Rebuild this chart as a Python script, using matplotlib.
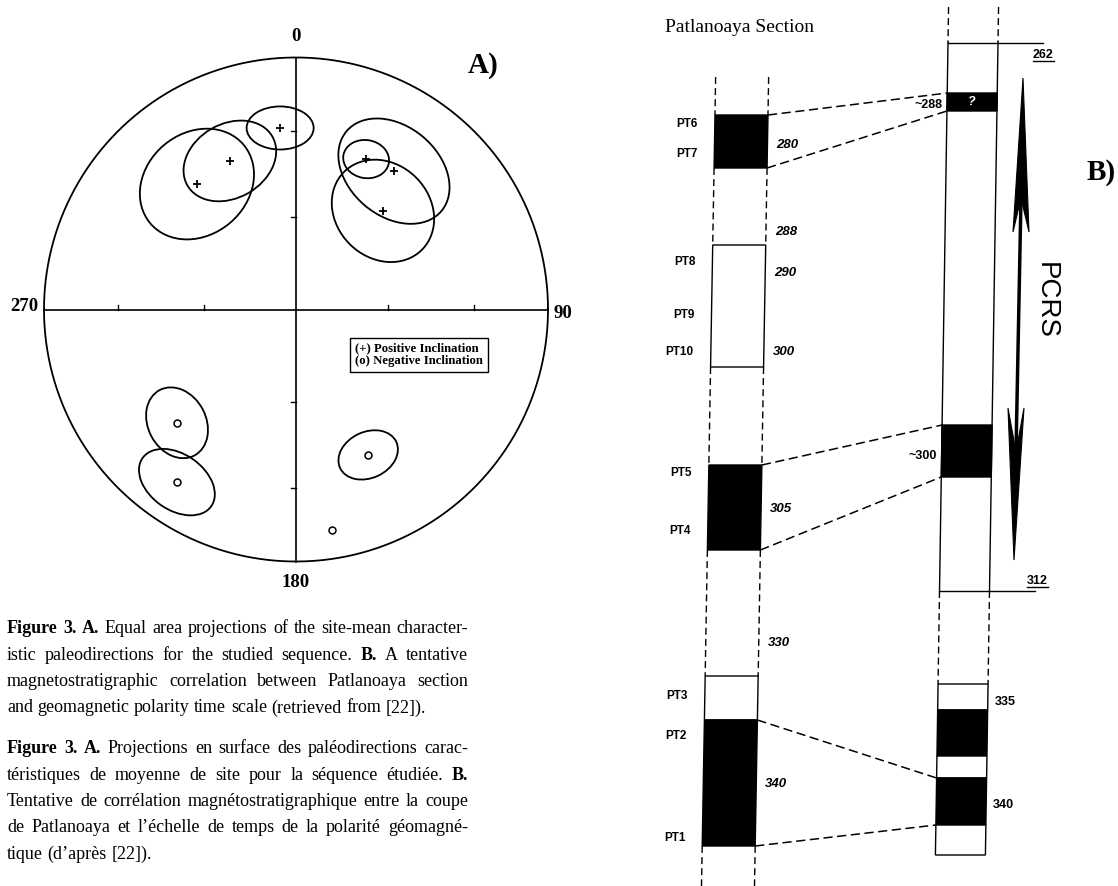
import numpy as np
import matplotlib
matplotlib.use("Agg")
import matplotlib.pyplot as plt
from matplotlib.patches import Ellipse, Polygon

W, H = 1118, 886

# ---------------- A) equal-area net : site-mean directions ----------------
site_dec = [355.0, 336.0, 321.7, 25.0, 35.3, 41.4, 226.4, 214.6, 153.6, 170.7]
site_inc = [28.5, 35.7, 36.7, 34.5, 33.2, 46.7, -35.1, -17.9, -35.8, -12.3]
# confidence ellipses (net radius units), 0 -> none drawn
ell_w = [0.266, 0.389, 0.484, 0.183, 0.492, 0.437, 0.294, 0.333, 0.246, 0]
ell_h = [0.171, 0.294, 0.405, 0.151, 0.357, 0.373, 0.230, 0.222, 0.183, 0]
ell_ang = [0, 30, 40, -10, -40, -45, -62, -35, 25, 0]
net_ticks_inc = [30, 60]

# ---------------- B) Patlanoaya section vs polarity scale ----------------
sec_top = [115, 245, 465, 676, 720]
sec_bot = [168, 367, 550, 720, 846]
sec_black = [True, False, True, False, True]
sec_gaps = [(77, 115), (168, 245), (367, 465), (550, 676), (846, 886)]
sec_labels = ["PT6", "PT7", "PT8", "PT9", "PT10", "PT5", "PT4", "PT3", "PT2", "PT1"]
sec_label_y = [124, 154, 262, 315, 352, 473, 531, 696, 736, 838]
sec_ages = ["280", "288", "290", "300", "305", "330", "340"]
sec_age_y = [145, 232, 273, 352, 509, 643, 784]

gpts_frame = (43, 591)
gpts_top = [93, 425, 684, 710, 756, 778, 825]
gpts_bot = [111, 477, 710, 756, 778, 825, 855]
gpts_black = [True, True, False, True, False, True, False]
gpts_gaps = [(7, 43), (591, 684)]
gpts_lab = ["~288", "~300", "335", "340"]
gpts_lab_y = [105, 456, 702, 805]
gpts_lab_side = ["l", "l", "r", "r"]
gpts_ends = ["262", "312"]
gpts_ends_xy = [(1033, 58), (1027, 584)]

links = [(115, 93), (168, 111), (465, 425), (550, 477), (720, 778), (846, 825)]

pcrs_top = [(1023, 78), (1029, 232), (1021, 198), (1013, 232)]
pcrs_bot = [(1014, 560), (1008, 408), (1016, 452), (1024, 408)]

caption_en = [
    [("Figure 3. A.", 1), ("Equal area projections of the site-mean character-", 0)],
    [("istic paleodirections for the studied sequence.", 0), ("B.", 1), ("A tentative", 0)],
    [("magnetostratigraphic correlation between Patlanoaya section", 0)],
    [("and geomagnetic polarity time scale (retrieved from [22]).", 0)],
]
caption_fr = [
    [("Figure 3. A.", 1), ("Projections en surface des paléodirections carac-", 0)],
    [("téristiques de moyenne de site pour la séquence étudiée.", 0), ("B.", 1)],
    [("Tentative de corrélation magnétostratigraphique entre la coupe", 0)],
    [("de Patlanoaya et l’échelle de temps de la polarité géomagné-", 0)],
    [("tique (d’après [22]).", 0)],
]
cap_base_en = [633, 659.5, 686, 712.5]
cap_base_fr = [753, 779.5, 806, 832.5, 859]
CAP_L, CAP_R = 7, 468

SERIF = "Liberation Serif"
SANS = "Liberation Sans"

fig = plt.figure(figsize=(W / 100, H / 100), dpi=100)
fig.patch.set_facecolor("white")

# page axes in pixel units (y down)
ax = fig.add_axes([0, 0, 1, 1])
ax.set_xlim(0, W)
ax.set_ylim(H, 0)
ax.axis("off")

# net axes
cx, cy, R = 296, 309.5, 252
half = 1.12
an = fig.add_axes([(cx - half * R) / W, 1 - (cy + half * R) / H,
                   2 * half * R / W, 2 * half * R / H])
an.set_xlim(-half, half)
an.set_ylim(-half, half)
an.axis("off")
an.patch.set_visible(False)

th = np.linspace(0, 2 * np.pi, 400)
an.plot(np.cos(th), np.sin(th), color="black", lw=1.3)
an.plot([-1, 1], [0, 0], color="black", lw=1.2)
an.plot([0, 0], [-1, 1], color="black", lw=1.2)
for inc in net_ticks_inc:
    r = np.sqrt(2) * np.sin(np.radians(90 - inc) / 2)
    for s in (-1, 1):
        an.plot([s * r, s * r], [0, 0.018], color="black", lw=1)
        an.plot([-0.018, 0], [s * r, s * r], color="black", lw=1)

dec = np.radians(site_dec)
inc = np.array(site_inc)
rho = np.sqrt(2) * np.sin(np.radians(90 - np.abs(inc)) / 2)
px = rho * np.sin(dec)
py = rho * np.cos(dec)
for i in range(len(px)):
    if ell_w[i] > 0:
        an.add_patch(Ellipse((px[i], py[i]), ell_w[i], ell_h[i], angle=ell_ang[i],
                             fill=False, ec="black", lw=1.3))
    if inc[i] >= 0:
        an.plot(px[i], py[i], marker="+", ms=6, mew=1.3, color="black")
    else:
        an.plot(px[i], py[i], marker="o", ms=5, mew=1.1, mfc="white", mec="black")

lab = dict(family=SERIF, fontweight="bold", fontsize=13.5, color="black")
an.text(0, 1.085, "0", ha="center", va="center", **lab)
an.text(0, -1.085, "180", ha="center", va="center", **lab)
an.text(-1.024, 0.01, "270", ha="right", va="center", **lab)
an.text(1.022, -0.014, "90", ha="left", va="center", **lab)
an.text(0.683, 0.97, "A)", ha="left", va="center", family=SERIF,
        fontweight="bold", fontsize=21)
an.text(0.234, -0.18, "(+) Positive Inclination\n(o) Negative Inclination",
        ha="left", va="center", family=SERIF, fontweight="bold", fontsize=9.2,
        linespacing=1.05,
        bbox=dict(boxstyle="square,pad=0.4", fc="white", ec="black", lw=1))

# ---------------- panel B ----------------
def left_x(y):
    return 717.0 - 0.0175 * y

def right_x(y):
    return 948.0 - 0.0155 * (y - 43)

WL, WR = 53, 50
dash = (0, (5, 3))

def block(xf, w, top, bot, black):
    pts = [(xf(top), top), (xf(top) + w, top), (xf(bot) + w, bot), (xf(bot), bot)]
    ax.add_patch(Polygon(pts, closed=True, fc="black" if black else "white",
                         ec="black", lw=1.0))

ax.text(665, 27, "Patlanoaya Section", family=SERIF, fontsize=14, ha="left", va="center")

for (a, b) in sec_gaps:
    for off in (0, WL):
        ax.plot([left_x(a) + off, left_x(b) + off], [a, b], color="black", lw=1.0, ls=dash)
for t, b, k in zip(sec_top, sec_bot, sec_black):
    block(left_x, WL, t, b, k)

for s, y in zip(sec_labels, sec_label_y):
    ax.text(left_x(y) - 17, y, s, family=SANS, fontweight="bold", fontsize=8.5,
            ha="right", va="center")
for s, y in zip(sec_ages, sec_age_y):
    ax.text(left_x(y) + WL + 9, y, s, family=SANS, fontweight="bold", style="italic",
            fontsize=9.5, ha="left", va="center")

# polarity column
for (a, b) in gpts_gaps:
    for off in (0, WR):
        ax.plot([right_x(a) + off, right_x(b) + off], [a, b], color="black", lw=1.0, ls=dash)
fa, fb = gpts_frame
for off in (0, WR):
    ax.plot([right_x(fa) + off, right_x(fb) + off], [fa, fb], color="black", lw=1.0)
ax.plot([right_x(fa), 1043], [fa, fa], color="black", lw=1.0)
ax.plot([right_x(fb), 1035], [fb, fb], color="black", lw=1.0)
for t, b, k in zip(gpts_top, gpts_bot, gpts_black):
    block(right_x, WR, t, b, k)
ax.text(right_x(102) + WR / 2, 102, "?", color="white", family=SANS, fontweight="bold",
        style="italic", fontsize=9, ha="center", va="center")

for s, y, side in zip(gpts_lab, gpts_lab_y, gpts_lab_side):
    if side == "l":
        ax.text(right_x(y) - 5, y, s, family=SANS, fontweight="bold", fontsize=9,
                ha="right", va="center")
    else:
        ax.text(right_x(y) + WR + 7, y, s, family=SANS, fontweight="bold", fontsize=9,
                ha="left", va="center")

for (ys, yg) in links:
    ax.plot([left_x(ys) + WL, right_x(yg)], [ys, yg], color="black", lw=1.1, ls=(0, (6, 3)))

ax.add_patch(Polygon(pcrs_top, closed=True, fc="black", ec="black", lw=0.8))
ax.add_patch(Polygon(pcrs_bot, closed=True, fc="black", ec="black", lw=0.8))
ax.plot([pcrs_top[2][0], pcrs_bot[2][0]], [pcrs_top[2][1], pcrs_bot[2][1]],
        color="black", lw=2.5)
ax.text(1046, 300, "PCRS", family=SANS, fontsize=20, rotation=-90,
        ha="center", va="center")
ax.text(1087, 172, "B)", family=SERIF, fontweight="bold", fontsize=21,
        ha="left", va="center")

fig.canvas.draw()
rend = fig.canvas.get_renderer()

for s, (x, y) in zip(gpts_ends, gpts_ends_xy):
    t = ax.text(x, y, s, family=SANS, fontweight="bold", fontsize=9, ha="left", va="baseline")
    bb = t.get_window_extent(rend)
    ax.plot([bb.x0, bb.x1], [y + 2.5, y + 2.5], color="black", lw=1.0)

# ---------------- caption (justified) ----------------
def words_of(runs):
    return [(w, b) for txt, b in runs for w in txt.split()]

def make_words(runs, y, size):
    out = []
    for w, b in words_of(runs):
        out.append(ax.text(0, y, w, family=SERIF, fontsize=size,
                           fontweight="bold" if b else "normal", ha="left", va="baseline"))
    return out

# pick a size that lets the fullest justified line fit
probe = 10.0
ratio = []
for para in (caption_en, caption_fr):
    for runs in para[:-1]:
        ts = make_words(runs, -100, probe)
        wsum = sum(t.get_window_extent(rend).width for t in ts)
        nat = wsum + (len(ts) - 1) * probe * 100 / 72 * 0.25
        ratio.append((CAP_R - CAP_L) / nat)
        for t in ts:
            t.remove()
cap_size = min(13.0, probe * min(ratio))

for para, bases in ((caption_en, cap_base_en), (caption_fr, cap_base_fr)):
    for i, (runs, y) in enumerate(zip(para, bases)):
        ts = make_words(runs, y, cap_size)
        ws = [t.get_window_extent(rend).width for t in ts]
        if i < len(para) - 1 and len(ts) > 1:
            gap = (CAP_R - CAP_L - sum(ws)) / (len(ts) - 1)
        else:
            gap = cap_size * 100 / 72 * 0.25
        x = CAP_L
        for t, w in zip(ts, ws):
            t.set_x(x)
            x += w + gap

fig.savefig("out.png", dpi=100, facecolor="white")
